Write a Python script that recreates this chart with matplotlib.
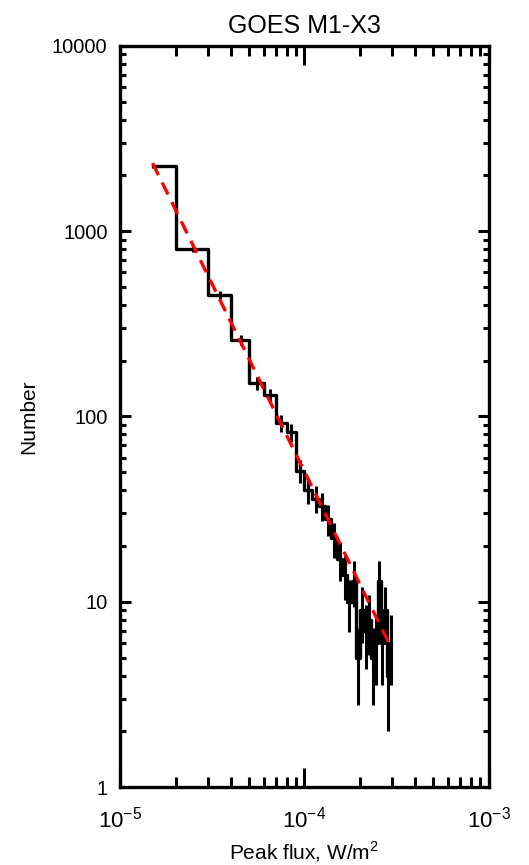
import numpy as np
import matplotlib
matplotlib.use("Agg")
import matplotlib.pyplot as plt
from matplotlib.ticker import LogLocator, FixedLocator, NullFormatter

plt.rcParams['font.family'] = ['Liberation Sans', 'DejaVu Sans']
plt.rcParams['mathtext.fontset'] = 'custom'
plt.rcParams['mathtext.rm'] = 'Liberation Sans'

# bin centres in units of 1e-5 W/m^2 (bin width 1e-5)
bin_centres = [1.5, 2.5, 3.5, 4.5, 5.5, 6.5, 7.5, 8.5, 9.5, 10.5,
               11.5, 12.5, 13.5, 14.5, 15.5, 16.5, 17.5, 18.5, 19.5, 20.5,
               21.5, 22.5, 23.5, 24.5, 25.5, 26.5, 27.5, 28.5, 29.5]
counts = [2240, 800, 452, 258, 152, 130, 92, 82, 51, 40,
          36, 33, 28, 22, 17, 14, 10, 13, 5, 9,
          7, 8, 5, 6, 13, 6, 9, 4, 6]

# power-law fit shown as red dashed line
fit_norm = 2330.0
fit_index = -2.02

x = np.array(bin_centres) * 1e-5
n = np.array(counts, dtype=float)
err = np.sqrt(n)

fig = plt.figure(figsize=(5.29, 8.65), dpi=100)
ax = fig.add_axes([0.227, 0.090, 0.697, 0.857])

ax.step(x, n, where='mid', color='black', lw=2.4)
ax.vlines(x, n - err, n + err, color='black', lw=2.2)

xf = np.array([x[0], x[-1]])
ax.plot(xf, fit_norm * (xf / x[0]) ** fit_index, color='red', lw=2.4,
        dashes=(4, 2.5))

ax.set_xscale('log')
ax.set_yscale('log')
ax.set_xlim(1e-5, 1e-3)
ax.set_ylim(1, 10000)

ax.yaxis.set_major_locator(FixedLocator([1, 10, 100, 1000, 10000]))
ax.set_yticklabels(['1', '10', '100', '1000', '10000'])
ax.xaxis.set_major_locator(FixedLocator([1e-5, 1e-4, 1e-3]))
ax.set_xticklabels([r'10$^{\mathregular{-5}}$', r'10$^{\mathregular{-4}}$',
                    r'10$^{\mathregular{-3}}$'])
ax.xaxis.set_minor_locator(LogLocator(base=10, subs=np.arange(2, 10)))
ax.yaxis.set_minor_locator(LogLocator(base=10, subs=np.arange(2, 10)))
ax.xaxis.set_minor_formatter(NullFormatter())
ax.yaxis.set_minor_formatter(NullFormatter())

ax.tick_params(axis='both', which='both', direction='in', top=True, right=True,
               width=2.2)
ax.tick_params(axis='x', which='major', length=14, pad=14, labelsize=16)
ax.tick_params(axis='x', which='minor', length=7)
ax.tick_params(axis='y', which='major', length=8, pad=9, labelsize=14.5)
ax.tick_params(axis='y', which='minor', length=4)
for s in ax.spines.values():
    s.set_linewidth(2.4)

ax.set_xlabel('Peak flux, W/m$^{\\mathregular{2}}$', fontsize=15, labelpad=5)
ax.set_ylabel('Number', fontsize=15, labelpad=10)
ax.set_title('GOES M1-X3', fontsize=18, pad=9)

fig.savefig('out.png', dpi=100)
